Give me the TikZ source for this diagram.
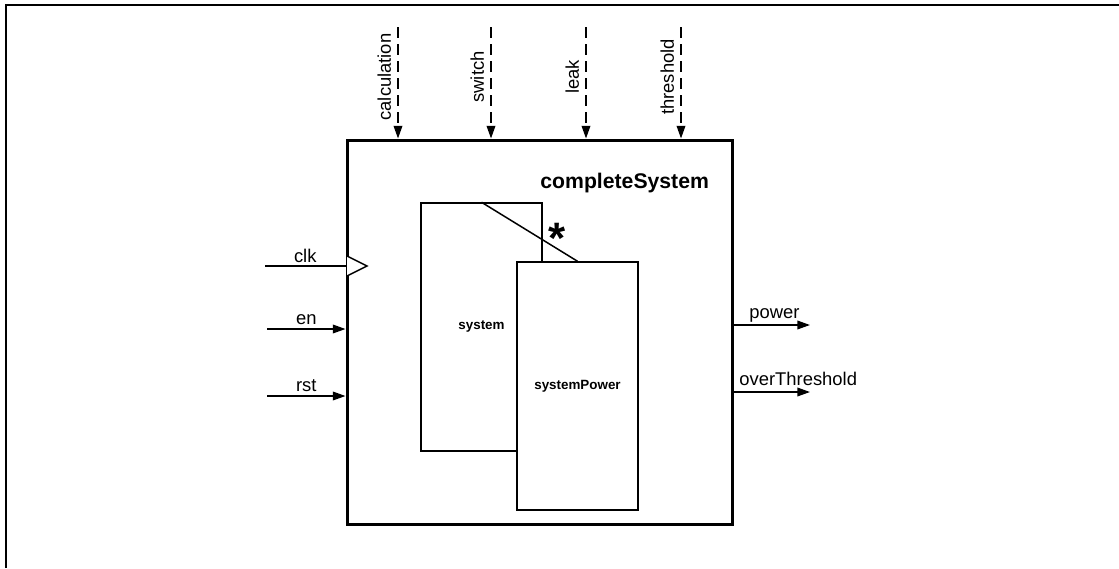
\documentclass[tikz,border=0pt]{standalone}
\usepackage{fontspec}
\setmainfont{Liberation Sans}
\usetikzlibrary{arrows.meta, positioning, calc}

\begin{document}
\begin{tikzpicture}[x=0.5pt, y=-0.5pt,
            outerbox/.style={draw, line width=1.5pt, minimum width=192.5pt, minimum height=192pt, inner sep=0pt},
            innerbox/.style={draw, line width=0.75pt, fill=white, minimum width=60.5pt, minimum height=124pt, inner sep=0pt, font=\fontsize{6.7}{8}\selectfont\bfseries},
            wire/.style={line width=0.75pt},
            sig/.style={wire, -{Triangle[length=6.3pt, width=4.3pt]}},
            param/.style={sig, dash pattern=on 5.5pt off 3pt},
            lbl/.style={font=\fontsize{9.2}{11}\selectfont},
            inlbl/.style={lbl, anchor=base, yshift=2.5pt}
        ]
            \useasboundingbox (0,0) rectangle (1119,568);
            \draw[wire] (6,568) -- (6,5) -- (1119,5);

            \node[outerbox] (completeSystem) at (539.5,332) {};
            \node[anchor=east, font=\fontsize{10.6}{12}\selectfont\bfseries] (title) at (716,183) {completeSystem};

            \node[innerbox] (system) at (481.5,327) {system};
            \node[innerbox] (systemPower) at (577.5,386) {systemPower};
            \draw[wire] (system.north) -- (systemPower.north);
            \node[anchor=base, font=\fontsize{22}{24}\selectfont\bfseries] (star) at (557,253) {*};

            % parameters
            \coordinate (calcIn) at (398,27);
            \coordinate (switchIn) at (491,27);
            \coordinate (leakIn) at (586,27);
            \coordinate (threshIn) at (681,27);
            \draw[param] (calcIn) -- (calcIn |- completeSystem.north);
            \draw[param] (switchIn) -- (switchIn |- completeSystem.north);
            \draw[param] (leakIn) -- (leakIn |- completeSystem.north);
            \draw[param] (threshIn) -- (threshIn |- completeSystem.north);
            \node[lbl, rotate=90, anchor=south] at (398,77) {calculation};
            \node[lbl, rotate=90, anchor=south] at (491,77) {switch};
            \node[lbl, rotate=90, anchor=south] at (586,77) {leak};
            \node[lbl, rotate=90, anchor=south] at (681,77) {threshold};

            % inputs
            \coordinate (clkIn) at (265,266);
            \coordinate (enIn) at (267,329);
            \coordinate (rstIn) at (267,396);
            \draw[wire] (clkIn) -- node[inlbl, yshift=-0.5pt] {clk} (clkIn -| completeSystem.west);
            \draw[wire, fill=white] ($(clkIn -| completeSystem.west)+(1.5,-10)$) -- ($(clkIn -| completeSystem.west)+(21.5,0)$) -- ($(clkIn -| completeSystem.west)+(1.5,10)$);
            \draw[sig] (enIn) -- node[inlbl] {en} (enIn -| completeSystem.west);
            \draw[sig] (rstIn) -- node[inlbl] {rst} (rstIn -| completeSystem.west);

            % outputs
            \coordinate (powerOut) at (810,325);
            \coordinate (overOut) at (810,392);
            \draw[sig] (powerOut -| completeSystem.east) -- (powerOut);
            \draw[sig] (overOut -| completeSystem.east) -- (overOut);
            \node[lbl, anchor=base west, inner sep=1pt] at (747,318) {power};
            \node[lbl, anchor=base west, inner sep=1pt] at (737,385) {overThreshold};
        \end{tikzpicture}
\end{document}
